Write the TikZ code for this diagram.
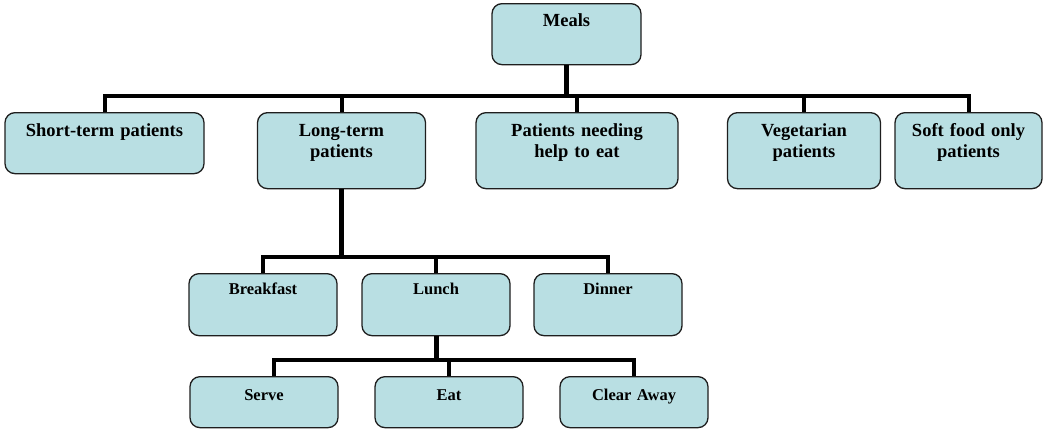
\documentclass[tikz,border=0pt]{standalone}
\usepackage{fontspec}
\setmainfont{Liberation Serif}
\usepackage{tikz}
\definecolor{boxfill}{HTML}{B9DFE3}
\definecolor{edge}{HTML}{1E1E1E}

\begin{document}
\begin{tikzpicture}[x=1pt,y=-1pt,font=\bfseries\fontsize{18.5}{20.5}\selectfont,
  card/.style={draw=edge,line width=1.3pt,fill=boxfill,rounded corners=10pt,
    anchor=north,inner sep=0pt,align=center},
  lowtier/.style={font=\bfseries\fontsize{16.5}{18.5}\selectfont},
  wire/.style={line width=4pt},
  trunk/.style={line width=5pt}]
  \useasboundingbox (0,0) rectangle (1046,429);
  \node[card,text width=149pt,text height=23pt,text depth=38pt] (meals) at (566.5,3) {Meals};
  \foreach \n/\x/\w/\d/\t in {short/104.5/199/37/Short-term patients,
      long/341.5/168/52/Long-term\\patients,
      patients/577/202/52/Patients needing\\help to eat,
      veg/804/153/52/Vegetarian\\patients,
      soft/968.5/147/52/Soft food only\\patients} {
    \node[card,text width=\w pt,text height=24pt,text depth=\d pt] (\n) at (\x,112) {\t};
  }
  \foreach \n/\x/\t in {breakfast/263/Breakfast,lunch/436/Lunch,dinner/608/Dinner}
    \node[card,lowtier,text width=148pt,text height=21pt,text depth=41pt] (\n) at (\x,273) {\t};
  \foreach \n/\x/\t in {serve/264/Serve,eat/449/Eat,clear/634/Clear Away}
    \node[card,lowtier,text width=148pt,text height=24pt,text depth=27pt] (\n) at (\x,376) {\t};

  % buses
  \coordinate (bus1) at (0,96);
  \coordinate (bus2) at (0,257);
  \coordinate (bus3) at (0,360);
  \coordinate (servetop) at ([xshift=10pt]serve.north);

  \draw[trunk] (meals.south) -- (meals.south |- bus1);
  \draw[wire] (short.north) |- (soft.north |- bus1) -- (soft.north);
  \foreach \n in {long,patients,veg}
    \draw[wire] (\n.north) -- (\n.north |- bus1);

  \draw[trunk] (long.south) -- (long.south |- bus2);
  \draw[wire] (breakfast.north) |- (dinner.north |- bus2) -- (dinner.north);
  \draw[wire] (lunch.north) -- (lunch.north |- bus2);

  \draw[trunk] (lunch.south) -- (lunch.south |- bus3);
  \draw[wire] (servetop) |- (clear.north |- bus3) -- (clear.north);
  \draw[wire] (eat.north) -- (eat.north |- bus3);
\end{tikzpicture}
\end{document}
